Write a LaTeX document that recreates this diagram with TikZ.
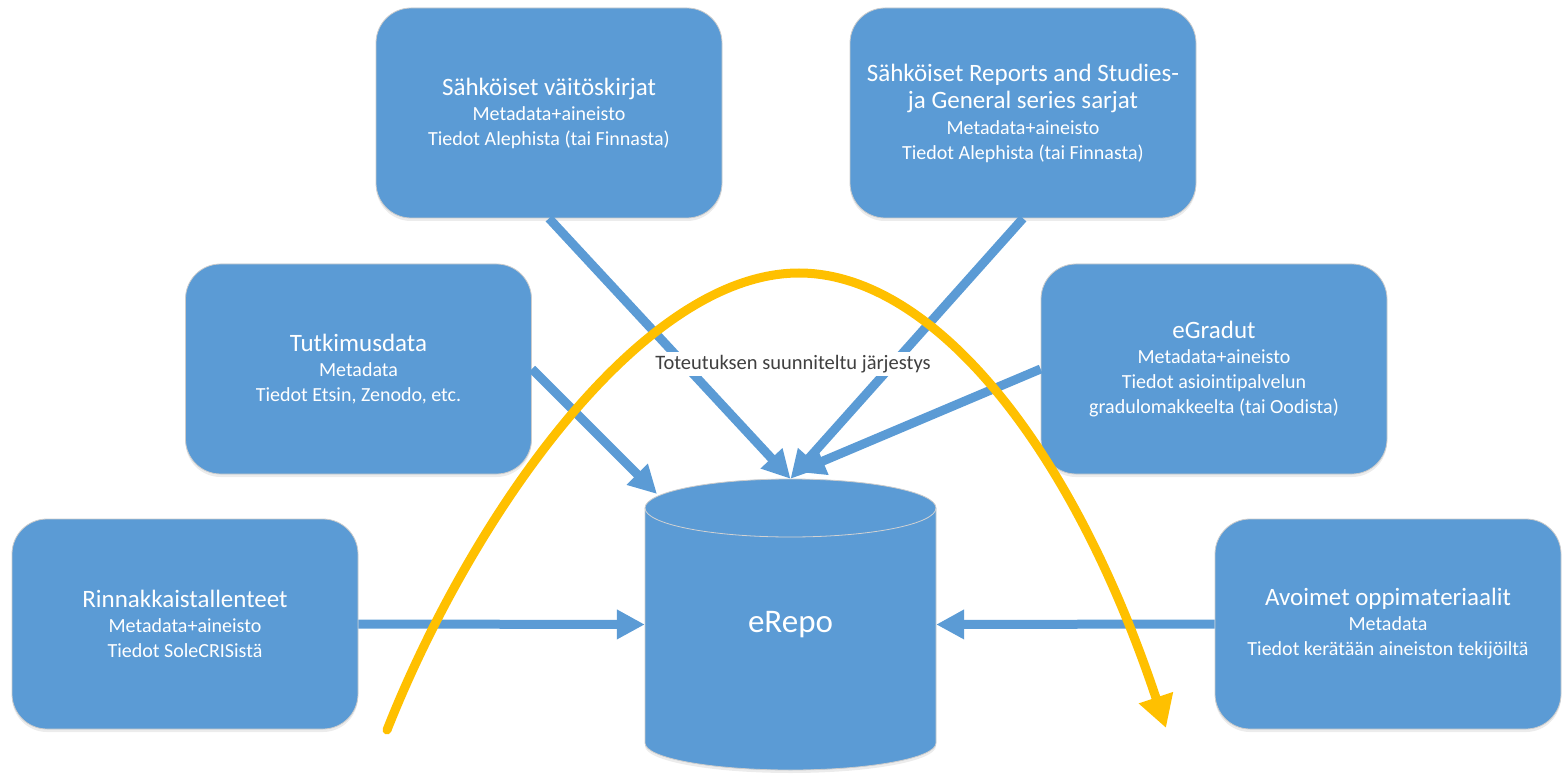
\documentclass[tikz,border=0pt]{standalone}
\usepackage{fontspec}
\setmainfont{Carlito}[Ligatures={NoCommon}]
\usetikzlibrary{arrows.meta,shadows}

\definecolor{repoblue}{HTML}{5B9BD5}
\definecolor{ordre}{HTML}{FFC000}
\definecolor{legende}{HTML}{404040}
\newcommand{\titre}[1]{{\fontsize{25}{26}\selectfont #1}}

\begin{document}
\begin{tikzpicture}[x=1pt,y=-1pt,
    source/.style={rectangle, rounded corners=35pt, fill=repoblue, draw=gray!40, line width=0.8pt,
      minimum width=346pt, minimum height=210pt, align=center, text=white,
      font=\fontsize{20}{25}\selectfont,
      drop shadow={shadow xshift=0pt, shadow yshift=-3pt, opacity=0.15}},
    fleche/.style={repoblue, line width=9pt, -{Triangle[length=28pt,width=28pt]}}]
    \useasboundingbox (0,0) rectangle (1563,775);

    % Le cylindre du dépôt
    \path[fill=repoblue, draw=gray!40, line width=0.8pt,
      drop shadow={shadow xshift=0pt, shadow yshift=-3pt, opacity=0.15}]
      (645,508) -- (645,743) arc[start angle=180, end angle=0, x radius=145.5, y radius=27]
      -- (936,508) arc[start angle=0, end angle=-180, x radius=145.5, y radius=29] -- cycle;
    \draw[gray!35, line width=0.8pt] (645,508) arc[start angle=180, end angle=0, x radius=145.5, y radius=29];
    \node[minimum width=291pt, minimum height=291pt, inner sep=0pt, text=white,
      font=\fontsize{33}{36}\selectfont] (erepo) at (790.5,624.5) {eRepo};

    % Les sources
    \node[source] (vaitos) at (549,113) {\titre{Sähköiset väitöskirjat}\\Metadata+aineisto\\Tiedot Alephista (tai Finnasta)};
    \node[source] (sarjat) at (1023,113) {\titre{Sähköiset Reports and Studies-}\\[2pt]\titre{ja General series sarjat}\\[1pt]Metadata+aineisto\\Tiedot Alephista (tai Finnasta)};
    \node[source] (tutkimus) at (358.5,369) {\titre{Tutkimusdata}\\Metadata\\Tiedot Etsin, Zenodo, etc.};
    \node[source] (gradut) at (1214,369) {\titre{eGradut}\\Metadata+aineisto\\Tiedot asiointipalvelun\\gradulomakkeelta (tai Oodista)};
    \node[source] (rinnakkais) at (185,624) {\titre{Rinnakkaistallenteet}\\Metadata+aineisto\\Tiedot SoleCRISistä};
    \node[source] (avoimet) at (1388,624) {\titre{Avoimet oppimateriaalit}\\Metadata\\Tiedot kerätään aineiston tekijöiltä};

    % Flèches vers eRepo
    \coordinate (repo-tut) at (657,494);
    \coordinate (repo-grad) at (797,472);
    \draw[fleche] (vaitos.south) -- (erepo.north);
    \draw[fleche] (sarjat.south) -- (erepo.north);
    \draw[fleche] (tutkimus.east) -- (repo-tut);
    \draw[fleche] (gradut.west) -- (repo-grad);
    \draw[fleche] (rinnakkais.east) -- (erepo.west);
    \draw[fleche] (avoimet.west) -- (erepo.east);

    % Légende de l'ordre
    \node[fill=white, inner sep=3pt, text=legende, font=\fontsize{20.5}{24}\selectfont] (sens) at (793,364) {Toteutuksen suunniteltu järjestys};

    % La courbe jaune
    \coordinate (debut) at (387,730);
    \coordinate (sommet) at (799,273);
    \coordinate (fin) at (1166,728);
    \draw[ordre, line width=9pt, line cap=round, -{Triangle[length=32pt,width=34pt]}]
      (debut) .. controls (470,520) and (640,273) .. (sommet) .. controls (930,273) and (1070,440) .. (fin);
\end{tikzpicture}
\end{document}
